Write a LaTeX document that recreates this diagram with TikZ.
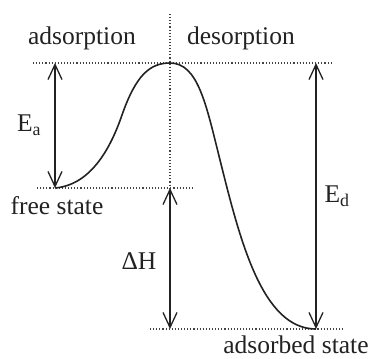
\documentclass[tikz,border=0pt]{standalone}
\usepackage{fontspec}
\setmainfont{Liberation Serif}
\usepackage{tikz}
\usetikzlibrary{positioning, arrows.meta}
\definecolor{inkGrey}{HTML}{222222}
\colorlet{levelGrey}{inkGrey!85}

\tikzset{
  level/.style={draw=levelGrey, dotted, line width=1.1pt},
  energy/.style={draw=inkGrey, line width=1.3pt,
    {Straight Barb[length=15pt,width=14pt,line width=1.3pt]}-{Straight Barb[length=15pt,width=14pt,line width=1.3pt]}},
  curve/.style={draw=inkGrey, line width=1.6pt},
  lbl/.style={font=\fontsize{25.5}{28}\selectfont, text=inkGrey, inner sep=1pt}
}

\begin{document}
\begin{tikzpicture}[x=1pt, y=-1pt]
\useasboundingbox (0,0) rectangle (373,359);

% energy levels
\coordinate (peak) at (170,63);
\coordinate (free) at (55,188);
\coordinate (ads) at (316,329);
\coordinate (eatop) at (55,63);
\coordinate (edtop) at (316,63);
\coordinate (dhtop) at (170,188);
\coordinate (dhbot) at (170,329);

\draw[level] (33,63) -- (331,63);
\draw[level] (37,188) -- (194,188);
\draw[level] (150,329) -- (343,329);
\draw[level] (170,14) -- (dhtop);

% potential curve
\draw[curve] (free) .. controls (90,185) and (110,150) .. (122,115)
  .. controls (136,75) and (150,63) .. (peak)
  .. controls (198,63) and (206,104) .. (220,160)
  .. controls (240,240) and (262,329) .. (ads);

% arrows
\draw[energy] (eatop) -- (free);
\draw[energy] (edtop) -- (ads);
\draw[energy] (dhtop) -- (dhbot);

% labels
\node[lbl] (adsorption) at (82,38) {adsorption};
\node[lbl] (desorption) at (241,38) {desorption};
\node[lbl] (freestate) at (57,206) {free state};
\node[lbl] (adsstate) at (296,345) {adsorbed state};
\node[lbl] (ea) at (29,125) {E\textsubscript{a}};
\node[lbl] (ed) at (337,196) {E\textsubscript{d}};
\node[lbl] (dh) at (139,261) {ΔH};
\end{tikzpicture}
\end{document}
